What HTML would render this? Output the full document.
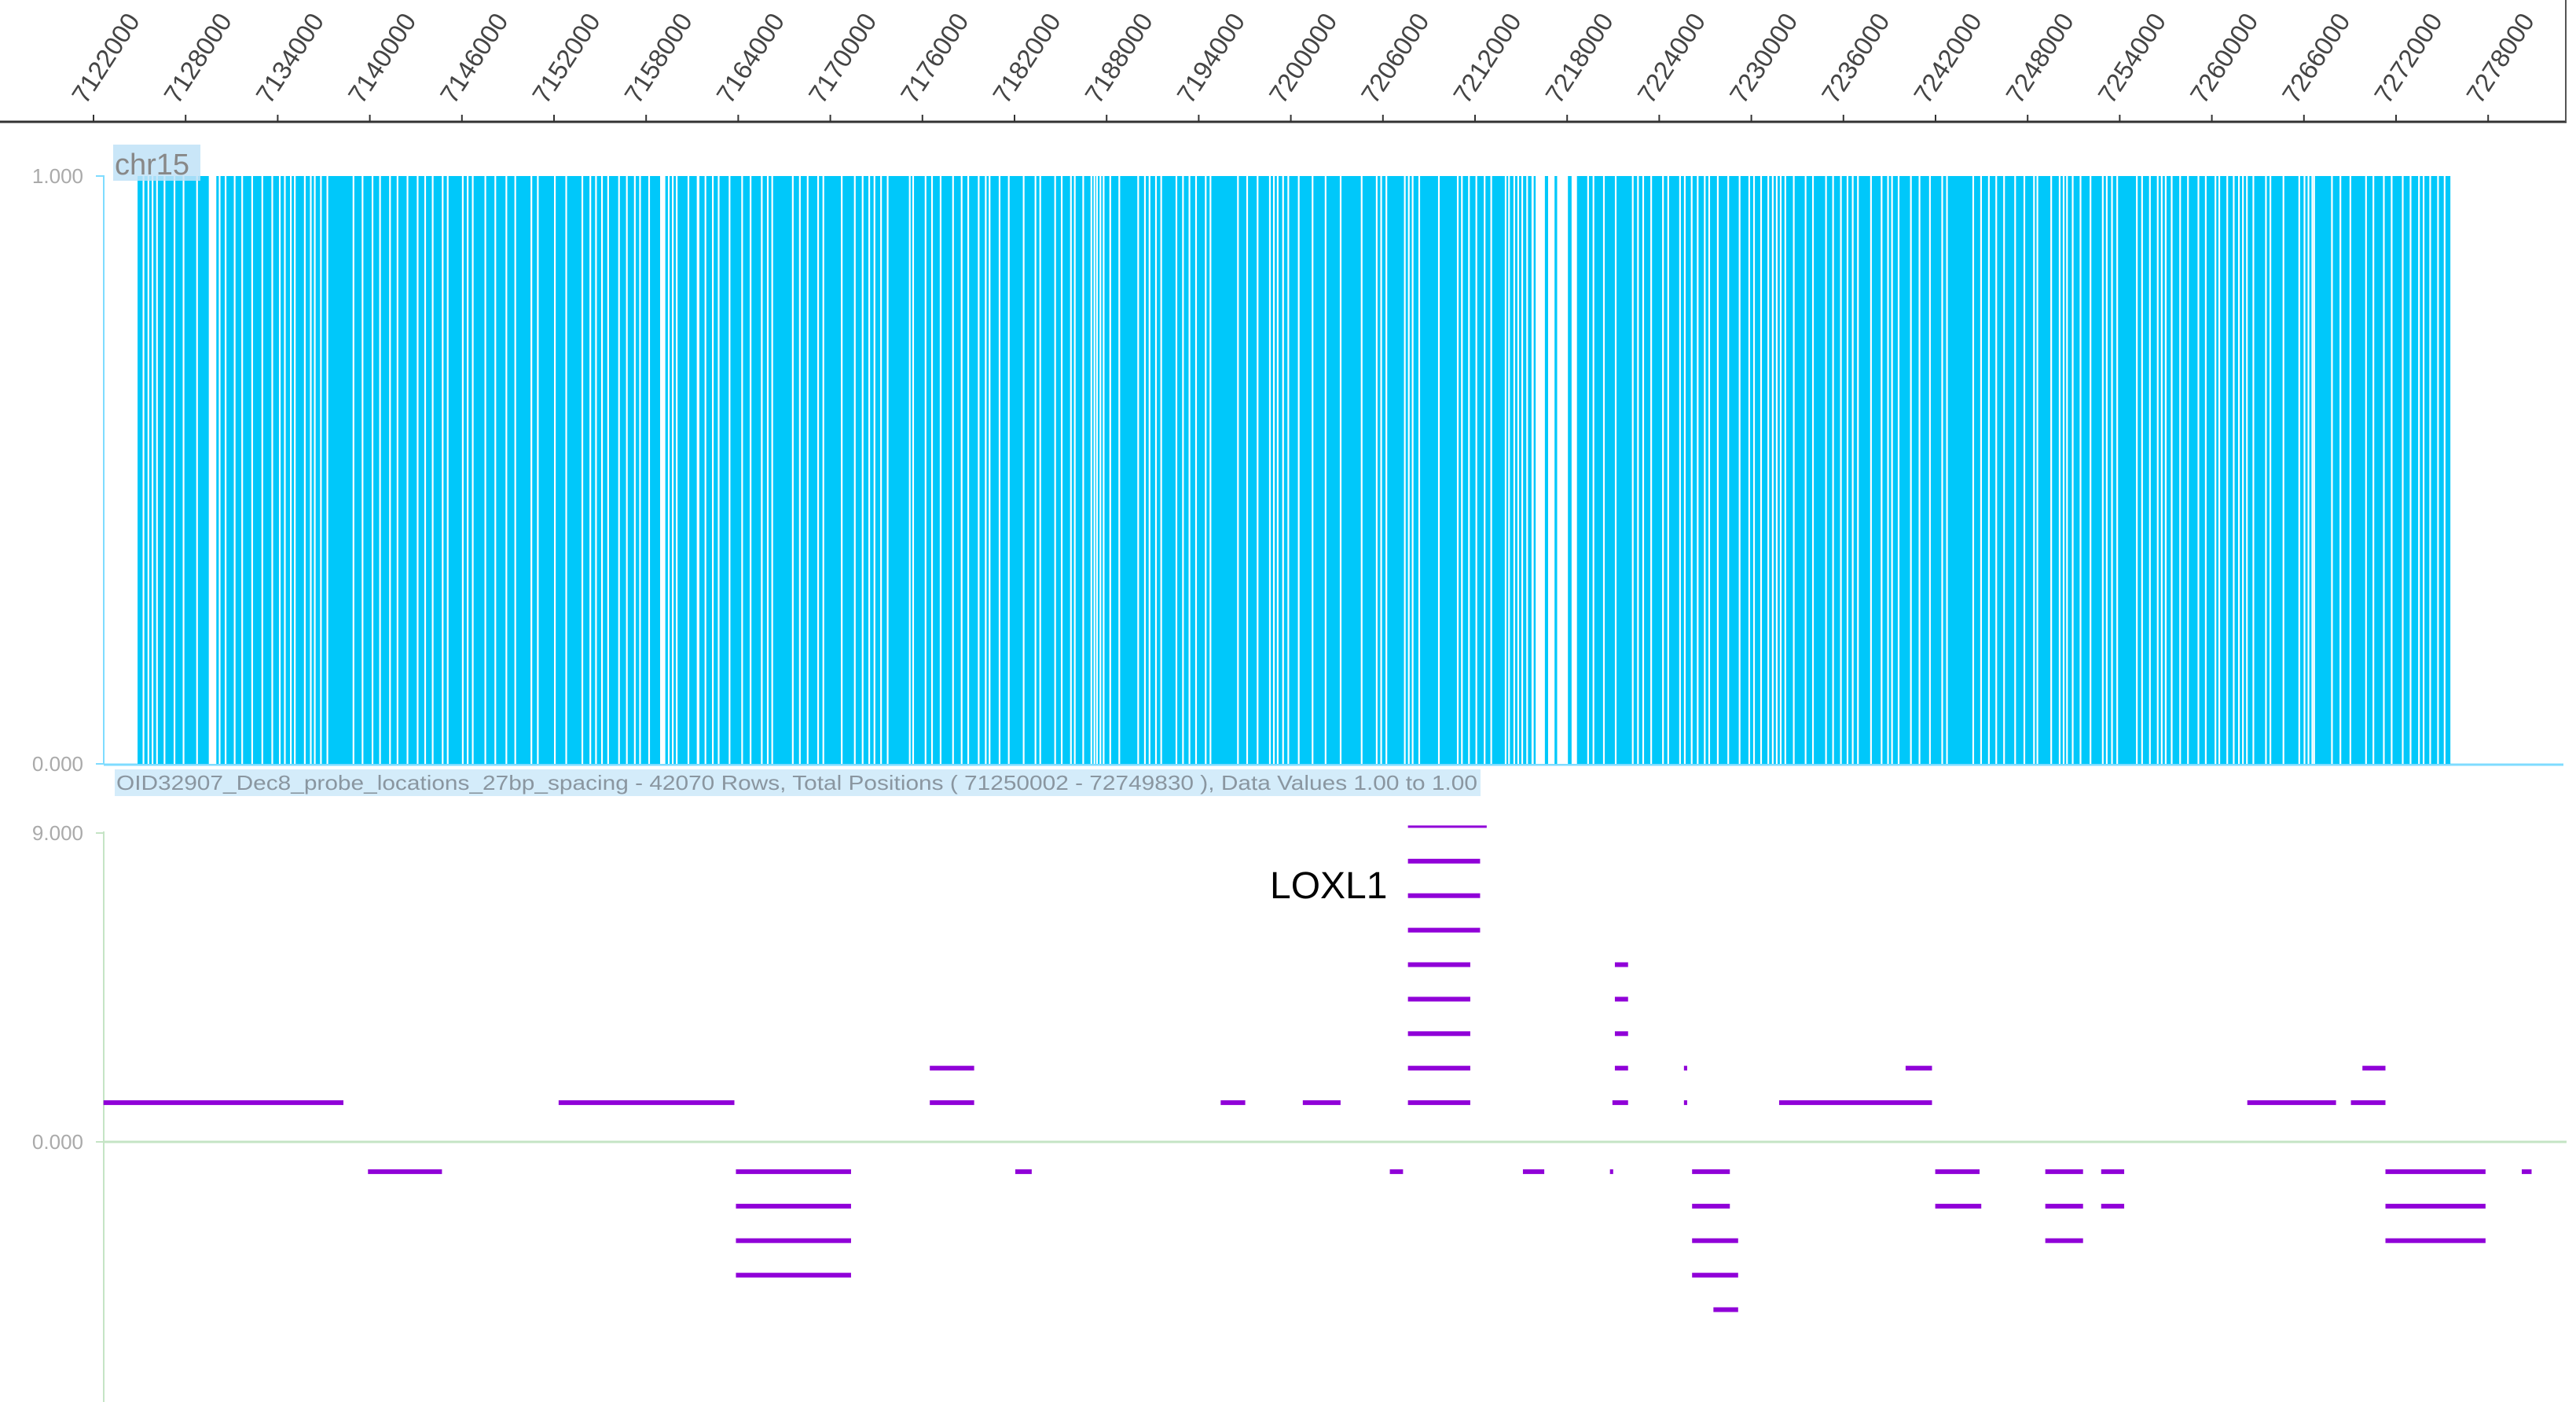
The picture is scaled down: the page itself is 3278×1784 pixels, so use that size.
<!DOCTYPE html>
<html><head><meta charset="utf-8">
<style>
html,body{margin:0;padding:0;background:#fff;}
svg{display:block;font-family:"Liberation Sans",sans-serif;}
</style></head>
<body>
<svg id="chart" width="3278" height="1784" viewBox="0 0 3278 1784" xmlns="http://www.w3.org/2000/svg">
  <rect x="0" y="0" width="3278" height="1784" fill="#fff"/>
  <g id="axisTop"></g>
  <g id="track1"></g>
  <g id="track2"></g>
</svg>
<script>
const NS = "http://www.w3.org/2000/svg";
// ---- data ----
const tickPositions = [71220,71280,71340,71400,71460,71520,71580,71640,71700,71760,71820,71880,71940,72000,72060,72120,72180,72240,72300,72360,72420,72480,72540,72600,72660,72720,72780];
const tickLabels = ["7122000","7128000","7134000","7140000","7146000","7152000","7158000","7164000","7170000","7176000","7182000","7188000","7194000","7200000","7206000","7212000","7218000","7224000","7230000","7236000","7242000","7248000","7254000","7260000","7266000","7272000","7278000"];
const probeStart = 71248.7;
const probeEnd = 72755.4;
const probeValue = 1.0;
const probeGaps = [
[71252.0],[71255.2],[71257.9],[71260.8],[71265.7],[71272.2],[71278.1],[71286.9],[71295.1,71300.0],[71301.6],[71305.5],[71311.4],[71316.3],[71322.8],[71329.4],[71335.9],[71340.8],[71344.1],[71348.0],[71350.6],[71357.1],[71361.0],[71363.6],[71367.6],[71371.8],[71388.8],[71394.7],[71401.2],[71406.1],[71412.6],[71417.5],[71424.0],[71430.6],[71435.5],[71440.4],[71446.9],[71450.2],[71460.0],[71463.2],[71466.5],[71474.7],[71481.2],[71488.4],[71494.2],
[71504.7],[71508.9],[71520.0],[71527.4],[71537.9],[71543.1],[71546.8],[71550.7],[71554.7],[71561.8],[71566.9],[71572.1],[71575.5],[71581.4],[71589.1,71592.5],[71594.2],[71596.8],[71599.4],[71607.0],[71613.0,71614.7],[71618.1],[71622.9],[71626.7],[71633.8],[71642.0],[71647.5],[71654.8],[71658.7],[71661.6],[71675.0],[71679.6],[71684.7],[71691.5],[71694.9],[71706.9],[71715.4],[71720.5],[71724.8],[71728.2],[71732.5],[71736.8],[71751.2],
[71753.4],[71761.5],[71765.7],[71771.3],[71779.4],[71785.0],[71789.3],[71796.1],[71800.7],[71803.2],[71809.7],[71815.7],[71825.4],[71833.1],[71836.2],[71845.9],[71850.2],[71856.2],[71858.7],[71864.2],[71869.5],[71871.5],[71873.2],[71875.4],[71877.5],[71881.8],[71887.7],[71900.0],[71904.4],[71907.4],[71911.6],[71915.0],[71924.9],[71929.2],[71933.4],[71937.7],[71944.0],[71947.1],[71965.0],[71971.0],[71977.8],[71985.8],[71988.4],[71990.9],[71994.4],[71997.8],[72004.6],
[72013.6],[72022.1],[72031.9],[72045.6],[72055.4],[72058.3],[72061.7],[72073.7],[72076.3],[72078.8],[72083.1],[72095.9],[72108.2],[72110.9],[72115.5],[72120.3],[72125.7],[72130.0],[72139.4],[72141.6],[72145.0],[72147.6],[72150.2],[72153.4],[72156.8,72158.2],[72159.5,72165.5],[72167.6,72171.8],[72173.5,72180.5],[72182.9,72186.4],[72193.1],[72196.6],[72203.4],[72211.1],[72222.2],[72225.6],[72229.0],[72234.2],[72241.9],[72245.3],[72253.0],[72256.1],
[72260.6],[72264.5],[72269.1],[72272.0],[72277.6],[72284.4],[72291.8],[72298.1],[72301.2],[72305.8],[72310.5],[72313.4],[72316.0],[72318.6],[72321.6],[72327.1],[72334.8],[72339.6],[72348.1],[72352.7],[72357.8],[72362.1],[72365.5],[72368.9],[72377.4],[72384.3],[72388.5],[72391.1],[72395.4],[72403.4],[72409.0],[72415.8],[72423.8],[72426.9],[72444.0],[72449.1],[72454.2],[72459.0],[72464.1],[72471.3],[72477.3],[72483.6],[72485.8],[72494.8],[72500.3],[72502.9],[72505.1],[72508.8],[72513.9],
[72520.4],[72528.4],[72531.0],[72534.4],[72537.8],[72550.6],[72554.0],[72559.1],[72564.2],[72566.8],[72569.4],[72573.3],[72578.8],[72583.9],[72590.7],[72595.5],[72601.8],[72604.3],[72609.5],[72613.7],[72617.1],[72619.7],[72622.3],[72626.5],[72634.7],[72637.6],[72646.1],[72656.4],[72659.8],[72662.4],[72664.9],[72666.1],[72677.7],[72683.2],[72689.7],[72699.9],[72704.7],[72711.5],[72716.6],[72723.8],[72728.9],[72734.4],[72737.4],[72741.7],[72746.8],[72751.1]
];
const segStarts = [71226.5,71398.8,71523,71638.5,71638.5,71638.5,71638.5,71764.8,71764.8,71820.5,71954.3,72007.8,72064.5,72076.3,72076.3,72076.3,72076.3,72076.3,72076.3,72076.3,72076.3,72076.3,72151.2,72207.9,72209.5,72211.1,72211.1,72211.1,72211.1,72256.1,72256.1,72261.4,72261.4,72261.4,72261.4,72275.3,72318.1,72400.5,72419.8,72419.8,72491.5,72491.5,72491.5,72527.9,72527.9,72623.1,72690.6,72698.1,72713.1,72713.1,72713.1,72801.9];
const segEnds   = [71382.8,71447.0,71637.5,71713.5,71713.5,71713.5,71713.5,71793.7,71793.7,71831.2,71970.3,72032.4,72073.1,72116.9,72116.9,72116.9,72116.9,72116.9,72123.3,72123.3,72123.3,72127.6,72165.1,72210.0,72219.7,72219.7,72219.7,72219.7,72219.7,72258.2,72258.2,72286.0,72286.0,72291.4,72291.4,72291.4,72417.7,72417.7,72448.7,72449.8,72516.1,72516.1,72516.1,72542.9,72542.9,72680.9,72713.1,72713.1,72778.3,72778.3,72778.3,72808.3];
const segValues = [1,-1,1,-1,-2,-3,-4,1,2,-1,1,1,-1,1,2,3,4,5,6,7,8,9,-1,-1,1,2,3,4,5,1,2,-1,-2,-3,-4,-5,1,2,-1,-2,-1,-2,-3,-1,-2,1,1,2,-1,-2,-3,-1];

// ---- scales ----
function xScale(kb){ return 119 + (kb - 71220) * (117.2/60); }
function yTop(v){ return 972 - v * (972 - 224); }
function yBot(v){ return 1447 - v * 43.9; }

function mk(tag, attrs, parent){
  const e = document.createElementNS(NS, tag);
  for (const k in attrs) e.setAttribute(k, attrs[k]);
  parent.appendChild(e);
  return e;
}
const axisTop = document.getElementById('axisTop');
const t1 = document.getElementById('track1');
const t2 = document.getElementById('track2');

// top axis
let al = mk('line',{x1:0,y1:155,x2:3266,y2:155,stroke:'#333','stroke-width':3},axisTop);


let rl = mk('line',{x1:3265,y1:0,x2:3265,y2:155,stroke:'#555','stroke-width':2},axisTop);


tickPositions.forEach((p,i)=>{
  const x = xScale(p);
  const tk = mk('line',{x1:x,y1:146,x2:x,y2:155,stroke:'#333','stroke-width':2},axisTop);
  
  
  const tx = mk('text',{x:0,y:0,'font-size':33,fill:'#444',transform:`translate(${x-10},${134}) rotate(-57)`},axisTop);
  
  
  tx.textContent = tickLabels[i];
});

// track 1: probe coverage
let ax1 = mk('line',{x1:132,y1:224,x2:132,y2:972,stroke:'#7fdcff','stroke-width':2},t1);


[[1,'1.000'],[0,'0.000']].forEach(([v,l])=>{
  const y = yTop(v);
  const tk = mk('line',{x1:122,y1:y,x2:133,y2:y,stroke:'#7fdcff','stroke-width':2},t1);
  
  
  const tx = mk('text',{x:106,y:y+9,'font-size':26,fill:'#aaa','text-anchor':'end'},t1);
  
  
  tx.textContent = l;
});
let bl1 = mk('line',{x1:132,y1:973,x2:3262,y2:973,stroke:'#7fdcff','stroke-width':3},t1);


const pb = mk('rect',{x:xScale(probeStart),y:yTop(probeValue),width:xScale(probeEnd)-xScale(probeStart),height:yTop(0)-yTop(probeValue),fill:'#00c8fa'},t1);


probeGaps.forEach(g=>{
  const s = g[0], e = g.length>1 ? g[1] : g[0]+1.1;
  const r = mk('rect',{x:xScale(s),y:yTop(probeValue)-1,width:xScale(e)-xScale(s),height:yTop(0)-yTop(probeValue)+1,fill:'#fff'},t1);
  
  
});
let chrBox = mk('rect',{x:144,y:184,width:111,height:46,fill:'#bfe2f7','fill-opacity':0.85},t1);


let chr = mk('text',{x:146,y:222,'font-size':38,fill:'#888'},t1);


chr.textContent = 'chr15';
let capBox = mk('rect',{x:146,y:979,width:1738,height:34,fill:'#d4ecfa'},t1);


let cap = mk('text',{x:148,y:1005,'font-size':26,fill:'#8a96a0',textLength:1732,lengthAdjust:'spacingAndGlyphs'},t1);


cap.textContent = 'OID32907_Dec8_probe_locations_27bp_spacing - 42070 Rows, Total Positions ( 71250002 - 72749830 ), Data Values 1.00 to 1.00';

// track 2: scores
let ax2 = mk('line',{x1:132,y1:1058,x2:132,y2:1784,stroke:'#c5e4c5','stroke-width':2},t2);


let z2 = mk('line',{x1:132,y1:1453,x2:3266,y2:1453,stroke:'#c5e4c5','stroke-width':3},t2);


[[1060,'9.000'],[1453,'0.000']].forEach(([y,l])=>{
  const tk = mk('line',{x1:122,y1:y,x2:133,y2:y,stroke:'#c5e4c5','stroke-width':2},t2);
  
  
  const tx = mk('text',{x:106,y:y+9,'font-size':26,fill:'#aaa','text-anchor':'end'},t2);
  
  
  tx.textContent = l;
});
segValues.forEach((v,i)=>{
  const x1 = xScale(segStarts[i]), x2 = xScale(segEnds[i]);
  const h = (v===9) ? 3 : 6;
  const r = mk('rect',{x:x1,y:yBot(v)-h/2,width:Math.max(3,x2-x1),height:h,fill:'#9000d8'},t2);
  
  
});
let gene = mk('text',{x:1616,y:1143,'font-size':48,fill:'#000'},t2);


gene.textContent = 'LOXL1';
</script>
</body></html>
